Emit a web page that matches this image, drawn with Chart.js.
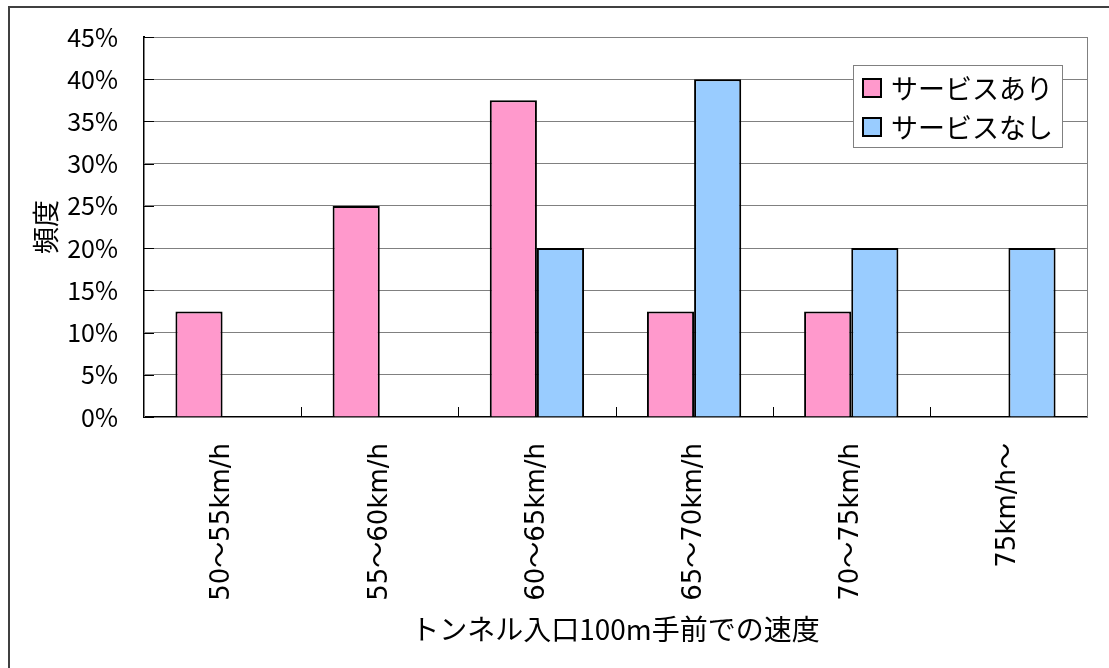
<!DOCTYPE html>
<html>
<head>
<meta charset="utf-8">
<title>トンネル入口100m手前での速度</title>
<script src="https://cdn.jsdelivr.net/npm/chart.js@4/dist/chart.umd.min.js"></script>
<style>
  html, body { margin: 0; padding: 0; background: #ffffff; }
  canvas { display: block; }
</style>
</head>
<body>
<canvas id="c" width="1109" height="668"></canvas>
<script>
// Speed bands 100 m before the tunnel entrance
const categories = ['50～55km/h', '55～60km/h', '60～65km/h', '65～70km/h', '70～75km/h', '75km/h～'];
// Frequency (%) with and without the service
const withService = [12.5, 25, 37.5, 12.5, 12.5, 0];
const withoutService = [0, 0, 20, 40, 20, 20];
const seriesNames = ['サービスあり', 'サービスなし'];
const yTicks = [0, 5, 10, 15, 20, 25, 30, 35, 40, 45];

const FONT = '"Noto Sans CJK JP", "Noto Sans", sans-serif';
const TICK_FONT = '"DejaVu Sans", "Noto Sans CJK JP", sans-serif';

// Frame, plot border and short inside tick marks
const framePlugin = {
  id: 'frame',
  beforeDatasetsDraw(chart) {
    const { ctx, chartArea: a, scales } = chart;
    ctx.save();
    ctx.strokeStyle = '#808080';
    ctx.lineWidth = 1;
    ctx.strokeRect(a.left + 0.5, a.top + 0.5, a.right - a.left, a.bottom - a.top);
    ctx.strokeStyle = '#000000';
    ctx.beginPath();
    // y axis ticks pointing into the plot
    scales.y.ticks.forEach((t) => {
      const y = Math.round(scales.y.getPixelForValue(t.value)) + 0.5;
      ctx.moveTo(a.left, y);
      ctx.lineTo(a.left + 10, y);
    });
    // x axis ticks between categories
    for (let i = 0; i < categories.length - 1; i++) {
      const x = Math.round((scales.x.getPixelForValue(i) + scales.x.getPixelForValue(i + 1)) / 2) + 0.5;
      ctx.moveTo(x, a.bottom);
      ctx.lineTo(x, a.bottom - 10);
    }
    ctx.stroke();
    ctx.restore();
  },
  afterDraw(chart) {
    const { ctx } = chart;
    ctx.save();
    ctx.strokeStyle = '#404040';
    ctx.lineWidth = 2;
    ctx.strokeRect(9, 7, 1200, 800);
    ctx.restore();
  }
};

// Boxed legend inside the plot area
const boxLegendPlugin = {
  id: 'boxLegend',
  afterDatasetsDraw(chart) {
    const { ctx } = chart;
    const x0 = 853, y0 = 65, w = 209, h = 82;
    ctx.save();
    ctx.fillStyle = '#ffffff';
    ctx.fillRect(x0, y0, w, h);
    ctx.strokeStyle = '#808080';
    ctx.lineWidth = 1;
    ctx.strokeRect(x0 + 0.5, y0 + 0.5, w, h);
    ctx.font = '27px ' + FONT;
    ctx.textBaseline = 'middle';
    ctx.textAlign = 'left';
    chart.data.datasets.forEach((ds, i) => {
      const cy = 88 + i * 39;
      ctx.fillStyle = ds.backgroundColor;
      ctx.fillRect(863, cy - 9, 18, 18);
      ctx.strokeStyle = '#000000';
      ctx.lineWidth = 2;
      ctx.strokeRect(863, cy - 9, 18, 18);
      ctx.fillStyle = '#000000';
      ctx.fillText(ds.label, 891, cy + 1);
    });
    ctx.restore();
  }
};

new Chart(document.getElementById('c'), {
  type: 'bar',
  data: {
    labels: categories,
    datasets: [
      {
        label: seriesNames[0],
        data: withService,
        backgroundColor: '#FF99CC',
        borderColor: '#000000',
        borderWidth: 2,
        borderSkipped: 'bottom'
      },
      {
        label: seriesNames[1],
        data: withoutService,
        backgroundColor: '#99CCFF',
        borderColor: '#000000',
        borderWidth: 2,
        borderSkipped: 'bottom'
      }
    ]
  },
  options: {
    responsive: false,
    animation: false,
    devicePixelRatio: 1,
    layout: { padding: { left: 0, top: 37, right: 22, bottom: 0 } },
    datasets: { bar: { categoryPercentage: 0.6, barPercentage: 1.0 } },
    plugins: {
      legend: { display: false },
      tooltip: { enabled: false }
    },
    scales: {
      x: {
        offset: true,
        grid: { display: false, drawTicks: false },
        border: { display: true, color: '#000000', width: 2 },
        ticks: {
          autoSkip: false,
          maxRotation: 90,
          minRotation: 90,
          padding: 26,
          color: '#000000',
          font: { family: TICK_FONT, size: 26 }
        },
        title: {
          display: true,
          text: 'トンネル入口100m手前での速度',
          color: '#000000',
          font: { family: FONT, size: 28 },
          padding: { top: 0, bottom: 22 }
        },
        afterFit(scale) {
          scale.height = 251;
          scale.paddingLeft = 0;
          scale.paddingRight = 0;
        }
      },
      y: {
        min: 0,
        max: 45,
        afterBuildTicks(scale) { scale.ticks = yTicks.map((v) => ({ value: v })); },
        grid: { color: '#808080', lineWidth: 1, drawTicks: false },
        border: { display: true, color: '#000000', width: 2 },
        ticks: {
          padding: 26,
          color: '#000000',
          font: { family: FONT, size: 25 },
          callback: (v) => v + '%'
        },
        title: {
          display: true,
          text: '頻度',
          color: '#000000',
          font: { family: FONT, size: 27 },
          padding: { top: 30, bottom: 0 }
        },
        afterFit(scale) {
          scale.width = 144;
          scale.paddingTop = 0;
          scale.paddingBottom = 0;
        }
      }
    }
  },
  plugins: [framePlugin, boxLegendPlugin]
});
</script>
</body>
</html>
